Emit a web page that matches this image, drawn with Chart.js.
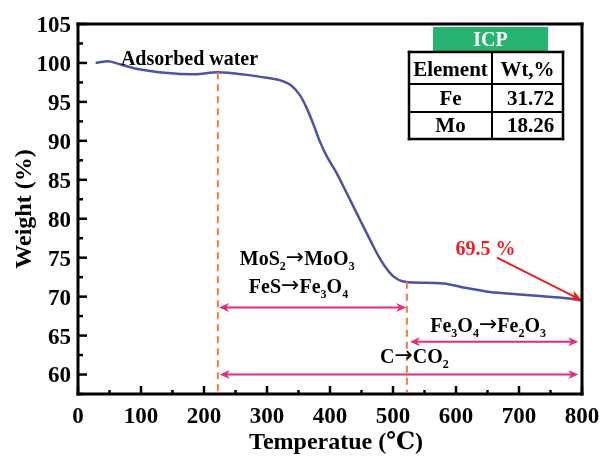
<!DOCTYPE html>
<html>
<head>
<meta charset="utf-8">
<script src="https://cdn.jsdelivr.net/npm/chart.js@4.4.0/dist/chart.umd.min.js"></script>
<style>
  html, body { margin: 0; padding: 0; background: #ffffff; }
  #wrap { position: relative; width: 603px; height: 457px; }
  #wrap canvas { position: absolute; left: 0; top: 0; }
</style>
</head>
<body>
<div id="wrap"><canvas id="tga" width="603" height="457"></canvas></div>
<script>
// TGA curve of the sample heated in air
const temperature = [28, 40, 50, 90, 143, 186, 222, 265, 307, 320, 337, 352, 363, 374, 384, 395, 411, 424, 440, 456, 466, 477, 487, 498, 508, 519, 532, 580, 617, 654, 696, 738, 776, 800];
const weight      = [100.0, 100.15, 100.2, 99.3, 98.7, 98.55, 98.8, 98.5, 98.0, 97.8, 97.2, 95.9, 94.2, 92.05, 89.9, 88.0, 85.8, 83.7, 81.1, 78.5, 76.9, 75.2, 73.9, 72.8, 72.2, 71.9, 71.8, 71.7, 71.1, 70.6, 70.3, 70.05, 69.8, 69.5];

// axis ticks
const xTicks = [0, 100, 200, 300, 400, 500, 600, 700, 800];
const yTicks = [60, 65, 70, 75, 80, 85, 90, 95, 100, 105];

// stage boundaries (°C) and the weight where each boundary meets the curve
const stageBounds = [222, 522];
const stageTops = [98.8, 71.9];

// range arrows: [from °C, to °C, weight level]
const rangeArrows = [
  [224, 521, 68.6],
  [527, 794, 64.2],
  [225, 794, 60.0]
];

// residual mass
const residual = 69.5;
const residualLabel = '69.5 %';
const residualFrom = [665, 75.0];

// ICP table
const icpHeader = ['Element', 'Wt,%'];
const icpElements = ['Fe', 'Mo'];
const icpWeights = ['31.72', '18.26'];

const SERIF = '"Liberation Serif", "Times New Roman", "DejaVu Serif", serif';
const ARROW_FONT = '"DejaVu Sans", sans-serif';
const BLUE = '#4d52a3';
const ORANGE = '#f27a40';
const PINK = '#e52a80';
const RED = '#ee1d23';
const GREEN = '#27b470';

let drawError = '';

function arrowHead(ctx, x, y, angle, len, half, color) {
  ctx.save();
  ctx.translate(x, y);
  ctx.rotate(angle);
  ctx.fillStyle = color;
  ctx.beginPath();
  ctx.moveTo(0, 0);
  ctx.lineTo(-len, -half);
  ctx.lineTo(-len * 0.7, 0);
  ctx.lineTo(-len, half);
  ctx.closePath();
  ctx.fill();
  ctx.restore();
}

// text with subscripts and arrows: parts = [[text, kind], ...], kind: 'n' | 's' | 'a'
function richText(ctx, parts, cx, baseY, size, color) {
  const fonts = {
    n: 'bold ' + size + 'px ' + SERIF,
    s: 'bold ' + Math.round(size * 0.62) + 'px ' + SERIF,
    a: Math.round(size * 1.1) + 'px ' + ARROW_FONT
  };
  let total = 0;
  const widths = [];
  for (let i = 0; i < parts.length; i++) {
    ctx.font = fonts[parts[i][1]];
    const w = ctx.measureText(parts[i][0]).width;
    widths.push(w);
    total += w;
  }
  let x = cx - total / 2;
  ctx.fillStyle = color;
  ctx.textAlign = 'left';
  ctx.textBaseline = 'alphabetic';
  for (let i = 0; i < parts.length; i++) {
    const k = parts[i][1];
    ctx.font = fonts[k];
    let y = baseY;
    if (k === 's') y = baseY + size * 0.28;
    if (k === 'a') y = baseY - size * 0.02;
    ctx.fillText(parts[i][0], x, y);
    x += widths[i];
  }
}

// plot frame and inward tick marks
function drawFrame(chart) {
  const ctx = chart.ctx;
  const a = chart.chartArea;
  const xs = chart.scales.x, ys = chart.scales.y;
  ctx.save();
  ctx.globalAlpha = 1;
  ctx.globalCompositeOperation = 'source-over';
  ctx.fillStyle = '#000000';
  ctx.fillRect(a.left - 1.5, a.top - 1.5, 3, a.bottom - a.top + 3);
  ctx.fillRect(a.right - 1.5, a.top - 1.5, 3, a.bottom - a.top + 3);
  ctx.fillRect(a.left - 1.5, a.top - 1.5, a.right - a.left + 3, 3);
  ctx.fillRect(a.left - 1.5, a.bottom - 1.5, a.right - a.left + 3, 3);
  for (let i = 0; i <= 19; i++) {
    const v = 57.5 + i * 2.5;
    const len = yTicks.indexOf(v) >= 0 ? 9 : 5;
    ctx.fillRect(a.left, ys.getPixelForValue(v) - 1.25, len, 2.5);
  }
  for (let i = 0; i <= 16; i++) {
    const t = i * 50;
    const len = xTicks.indexOf(t) >= 0 ? 8 : 4;
    ctx.fillRect(xs.getPixelForValue(t) - 1.25, a.bottom - len, 2.5, len);
  }
  ctx.restore();
}

// stage markers, labels, residual arrow and ICP table
function drawNotes(chart) {
  const ctx = chart.ctx;
  const xs = chart.scales.x, ys = chart.scales.y;
  const a = chart.chartArea;
  const px = v => xs.getPixelForValue(v);
  const py = v => ys.getPixelForValue(v);
  ctx.save();

  ctx.strokeStyle = ORANGE;
  ctx.lineWidth = 2;
  ctx.setLineDash([7, 5]);
  for (let i = 0; i < stageBounds.length; i++) {
    ctx.beginPath();
    ctx.moveTo(px(stageBounds[i]), py(stageTops[i]));
    ctx.lineTo(px(stageBounds[i]), a.bottom - 2);
    ctx.stroke();
  }
  ctx.setLineDash([]);

  for (let i = 0; i < rangeArrows.length; i++) {
    const r = rangeArrows[i];
    const x1 = px(r[0]), x2 = px(r[1]), y = py(r[2]);
    ctx.strokeStyle = PINK;
    ctx.lineWidth = 2;
    ctx.beginPath();
    ctx.moveTo(x1 + 6, y);
    ctx.lineTo(x2 - 6, y);
    ctx.stroke();
    arrowHead(ctx, x1, y, Math.PI, 10, 4.5, PINK);
    arrowHead(ctx, x2, y, 0, 10, 4.5, PINK);
  }

  const sx = px(residualFrom[0]), sy = py(residualFrom[1]);
  const ex = px(800), ey = py(residual);
  const ang = Math.atan2(ey - sy, ex - sx);
  ctx.strokeStyle = RED;
  ctx.lineWidth = 2;
  ctx.beginPath();
  ctx.moveTo(sx, sy);
  ctx.lineTo(ex - 8 * Math.cos(ang), ey - 8 * Math.sin(ang));
  ctx.stroke();
  arrowHead(ctx, ex, ey, ang, 12, 5, RED);

  ctx.font = 'bold 20px ' + SERIF;
  ctx.fillStyle = RED;
  ctx.textAlign = 'center';
  ctx.textBaseline = 'alphabetic';
  ctx.fillText(residualLabel, px(647), py(75.4));

  ctx.fillStyle = '#000';
  ctx.font = 'bold 20px ' + SERIF;
  ctx.fillText('Adsorbed water', px(177), py(99.74));
  richText(ctx, [['MoS', 'n'], ['2', 's'], ['\u2192', 'a'], ['MoO', 'n'], ['3', 's']], px(348), py(74.1), 20, '#000');
  richText(ctx, [['FeS', 'n'], ['\u2192', 'a'], ['Fe', 'n'], ['3', 's'], ['O', 'n'], ['4', 's']], px(350), py(70.5), 20, '#000');
  richText(ctx, [['Fe', 'n'], ['3', 's'], ['O', 'n'], ['4', 's'], ['\u2192', 'a'], ['Fe', 'n'], ['2', 's'], ['O', 'n'], ['3', 's']], px(651), py(65.5), 20, '#000');
  richText(ctx, [['C', 'n'], ['\u2192', 'a'], ['CO', 'n'], ['2', 's']], px(534), py(61.5), 20, '#000');

  const tL = 409, tR = 563, tT = 52, tB = 139, colX = 492;
  ctx.fillStyle = GREEN;
  ctx.fillRect(433, 27, 115, 25);
  ctx.fillStyle = '#fff';
  ctx.font = 'bold 20px ' + SERIF;
  ctx.textAlign = 'center';
  ctx.fillText('ICP', 490.5, 46);

  ctx.fillStyle = '#000';
  ctx.fillRect(tL - 1.25, tT - 1.25, tR - tL + 2.5, 2.5);
  ctx.fillRect(tL - 1.25, tB - 1.25, tR - tL + 2.5, 2.5);
  ctx.fillRect(tL - 1.25, tT - 1.25, 2.5, tB - tT + 2.5);
  ctx.fillRect(tR - 1.25, tT - 1.25, 2.5, tB - tT + 2.5);
  ctx.fillRect(colX - 1, tT, 2, tB - tT);
  ctx.fillRect(tL, 83, tR - tL, 2);
  ctx.fillRect(tL, 111, tR - tL, 2);

  ctx.font = 'bold 21px ' + SERIF;
  const c1 = (tL + colX) / 2, c2 = (colX + tR) / 2;
  ctx.fillText(icpHeader[0], c1, 76);
  ctx.fillText(icpHeader[1], c2, 76);
  const baselines = [105, 132];
  for (let i = 0; i < icpElements.length; i++) {
    ctx.fillText(icpElements[i], c1, baselines[i]);
    ctx.fillText(icpWeights[i], c2 + 3, baselines[i]);
  }

  ctx.restore();
}

const overlayPlugin = {
  id: 'tgaOverlay',
  afterDraw(chart) {
    try { drawNotes(chart); } catch (e) { drawError += 'notes: ' + e.message + ' '; }
    try { drawFrame(chart); } catch (e) { drawError += 'frame: ' + e.message + ' '; }
    if (drawError) {
      const ctx = chart.ctx;
      ctx.save();
      ctx.font = '12px "DejaVu Sans"';
      ctx.fillStyle = '#c00';
      ctx.textAlign = 'left';
      ctx.textBaseline = 'top';
      ctx.fillText(drawError, 90, 160);
      ctx.restore();
    }
  }
};

const tickFont = { family: SERIF, size: 23, weight: 'bold' };
const titleFont = { family: SERIF, size: 24, weight: 'bold' };

new Chart(document.getElementById('tga'), {
  type: 'line',
  data: {
    datasets: [{
      data: temperature.map((t, i) => ({ x: t, y: weight[i] })),
      borderColor: BLUE,
      borderWidth: 2.5,
      pointRadius: 0,
      tension: 0.3,
      fill: false
    }]
  },
  options: {
    responsive: false,
    animation: false,
    devicePixelRatio: 1,
    events: [],
    layout: { padding: { left: 0, top: 24, right: 21, bottom: 0 } },
    plugins: { legend: { display: false }, tooltip: { enabled: false } },
    scales: {
      x: {
        type: 'linear',
        min: 0,
        max: 800,
        afterBuildTicks: s => { s.ticks = xTicks.map(v => ({ value: v })); },
        afterFit: s => { s.height = 63; s.paddingLeft = 0; s.paddingRight = 0; },
        grid: { display: false, drawTicks: false },
        border: { display: false },
        ticks: { font: tickFont, color: '#000', padding: 9, maxRotation: 0 },
        title: { display: true, text: '\u2002Temperatue (\u2103)', font: titleFont, color: '#000', padding: { top: 0, bottom: 0 } }
      },
      y: {
        type: 'linear',
        min: 57.5,
        max: 105,
        afterBuildTicks: s => { s.ticks = yTicks.map(v => ({ value: v })); },
        afterFit: s => { s.width = 78; s.paddingTop = 0; s.paddingBottom = 0; },
        grid: { display: false, drawTicks: false },
        border: { display: false },
        ticks: { font: tickFont, color: '#000', padding: 7, labelOffset: 2 },
        title: { display: true, text: 'Weight (%)', font: titleFont, color: '#000', padding: { top: 10, bottom: 0 } }
      }
    }
  },
  plugins: [overlayPlugin]
});
</script>
</body>
</html>
